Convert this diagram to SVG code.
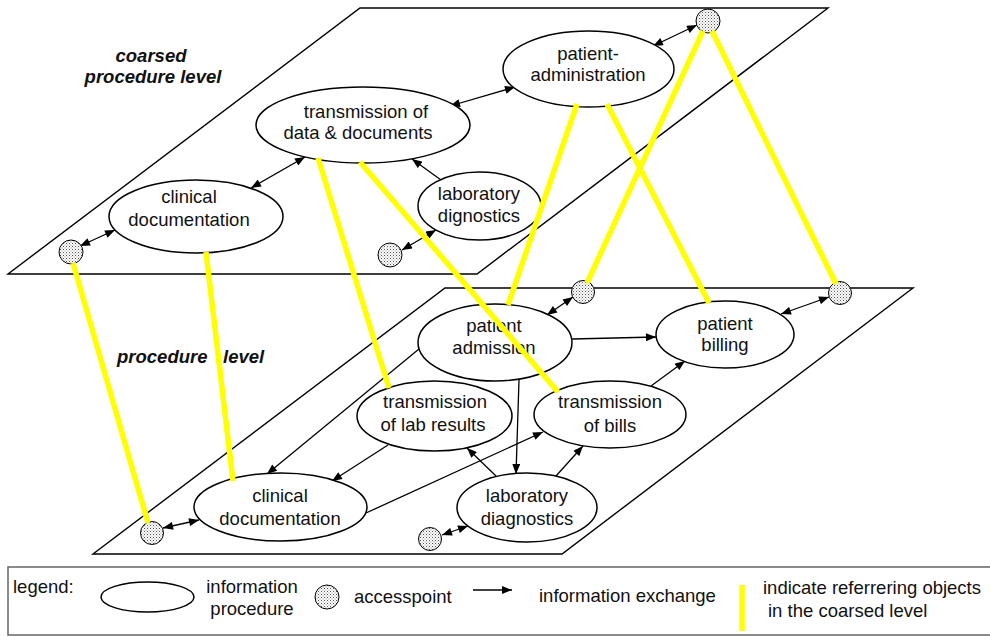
<svg xmlns="http://www.w3.org/2000/svg" width="990" height="637" viewBox="0 0 990 637">
<defs>
<pattern id="dots" width="3" height="3" patternUnits="userSpaceOnUse">
<rect width="3" height="3" fill="#ffffff"/>
<rect x="0" y="0" width="1" height="1" fill="#555"/>
<rect x="1.5" y="1.5" width="1" height="1" fill="#888"/>
</pattern>
<marker id="ah" viewBox="0 0 10 8" refX="10" refY="4" markerWidth="11" markerHeight="8" markerUnits="userSpaceOnUse" orient="auto-start-reverse">
<path d="M0,0 L10,4 L0,8 Z" fill="#000"/>
</marker>
<style>
.plane{fill:#fff;stroke:#000;stroke-width:1.4}
.proc{fill:#fff;stroke:#000;stroke-width:1.5}
.ap{fill:url(#dots);stroke:#000;stroke-width:1}
.t{font-family:"Liberation Sans",Arial,sans-serif;font-size:18.5px;fill:#111;text-anchor:middle}
.lv{font-family:"Liberation Sans",Arial,sans-serif;font-size:18.5px;font-weight:bold;font-style:italic;fill:#111}
.lg{font-family:"Liberation Sans",Arial,sans-serif;font-size:18.5px;fill:#111}
.c{stroke:#000;stroke-width:1.3;fill:none}
.bi{marker-start:url(#ah);marker-end:url(#ah)}
.un{marker-end:url(#ah)}
.y{stroke:#ffff00;stroke-width:5.5;fill:none}
</style>
</defs>

<g id="planes">
<polygon id="plane-coarsed" class="plane" points="360,8 828,8 477,274 8,274"/>
<polygon id="plane-procedure" class="plane" points="445,288 913,288 562,554 93,554"/>
</g>

<g id="level-labels">
<text class="lv" x="151" y="62" text-anchor="middle">coarsed</text>
<text class="lv" x="153" y="83" text-anchor="middle">procedure level</text>
<text class="lv" x="117" y="363">procedure<tspan x="223">level</tspan></text>
</g>

<g id="connectors">
<line class="c bi" x1="80" y1="246" x2="115" y2="230"/>
<line class="c bi" x1="251" y1="188" x2="305" y2="157"/>
<line class="c un" x1="441" y1="180" x2="412" y2="159"/>
<line class="c bi" x1="402" y1="250" x2="436" y2="230"/>
<line class="c bi" x1="450" y1="106" x2="515" y2="87"/>
<line class="c bi" x1="653" y1="46" x2="697" y2="25"/>
<line class="c bi" x1="547" y1="315" x2="573" y2="297"/>
<line class="c un" x1="572" y1="339" x2="656" y2="337"/>
<line class="c bi" x1="781" y1="314" x2="829" y2="297"/>
<line class="c un" x1="651" y1="386" x2="685" y2="361"/>
<line class="c un" x1="519" y1="380" x2="516" y2="474"/>
<line class="c un" x1="556" y1="476" x2="583" y2="446"/>
<line class="c un" x1="496" y1="476" x2="467" y2="448"/>
<line class="c un" x1="388" y1="445" x2="332" y2="481"/>
<line class="c un" x1="419" y1="349" x2="267" y2="474"/>
<line class="c un" x1="366" y1="513" x2="543" y2="432"/>
<line class="c bi" x1="163" y1="528" x2="199" y2="520"/>
<line class="c bi" x1="442" y1="535" x2="468" y2="526"/>
</g>

<g id="n-transmission-data">
<ellipse class="proc" cx="363" cy="125" rx="107" ry="38"/>
<text class="t" x="366" y="118">transmission of</text>
<text class="t" x="358" y="139">data &amp; documents</text>
</g>
<g id="n-clinical-upper">
<ellipse class="proc" cx="196" cy="216.5" rx="87" ry="36.5"/>
<text class="t" x="189" y="203">clinical</text>
<text class="t" x="189" y="226">documentation</text>
</g>
<g id="n-lab-upper">
<ellipse class="proc" cx="479.5" cy="206" rx="61.5" ry="34"/>
<text class="t" x="479" y="200">laboratory</text>
<text class="t" x="479" y="222">dignostics</text>
</g>
<g id="n-patient-administration">
<ellipse class="proc" cx="588.5" cy="69" rx="85.5" ry="38"/>
<text class="t" x="588" y="60">patient-</text>
<text class="t" x="588" y="81">administration</text>
</g>
<g id="n-patient-admission">
<ellipse class="proc" cx="495" cy="342.5" rx="77" ry="38.5"/>
<text class="t" x="494" y="332">patient</text>
<text class="t" x="494" y="354">admission</text>
</g>
<g id="n-patient-billing">
<ellipse class="proc" cx="725" cy="334.5" rx="69" ry="33.5"/>
<text class="t" x="725" y="330">patient</text>
<text class="t" x="725" y="351">billing</text>
</g>
<g id="n-transmission-lab">
<ellipse class="proc" cx="434.5" cy="416" rx="77.5" ry="35"/>
<text class="t" x="435" y="408">transmission</text>
<text class="t" x="433" y="431">of lab results</text>
</g>
<g id="n-transmission-bills">
<ellipse class="proc" cx="610" cy="414.5" rx="76" ry="33.5"/>
<text class="t" x="610" y="408">transmission</text>
<text class="t" x="610" y="432">of bills</text>
</g>
<g id="n-clinical-lower">
<ellipse class="proc" cx="280.5" cy="507" rx="86.5" ry="34"/>
<text class="t" x="280" y="502">clinical</text>
<text class="t" x="280" y="525">documentation</text>
</g>
<g id="n-lab-lower">
<ellipse class="proc" cx="527" cy="507.5" rx="70" ry="34.5"/>
<text class="t" x="527" y="502">laboratory</text>
<text class="t" x="527" y="525">diagnostics</text>
</g>

<g id="accesspoints">
<circle id="ap-upper-left" class="ap" cx="71" cy="252" r="12"/>
<circle id="ap-upper-lab" class="ap" cx="390" cy="255" r="12"/>
<circle id="ap-upper-top" class="ap" cx="708" cy="21" r="12"/>
<circle id="ap-lower-mid" class="ap" cx="583" cy="292" r="11.5"/>
<circle id="ap-lower-right" class="ap" cx="840" cy="293" r="11.5"/>
<circle id="ap-lower-left" class="ap" cx="152" cy="533" r="11.5"/>
<circle id="ap-lower-lab" class="ap" cx="430" cy="539" r="11.5"/>
</g>

<g id="references">
<line class="y" x1="73" y1="263" x2="148" y2="523"/>
<line class="y" x1="206" y1="252" x2="233" y2="481"/>
<line class="y" x1="318" y1="158" x2="389" y2="388"/>
<line class="y" x1="360" y1="162" x2="558" y2="392"/>
<line class="y" x1="577" y1="104" x2="508" y2="305"/>
<line class="y" x1="607" y1="104" x2="709" y2="303"/>
<line class="y" x1="703" y1="31" x2="587" y2="283"/>
<line class="y" x1="712" y1="31" x2="836" y2="284"/>
</g>

<g id="legend">
<rect x="8" y="567" width="990" height="68" fill="none" stroke="#666" stroke-width="1.5"/>
<text class="lg" x="13" y="593">legend:</text>
<ellipse class="proc" cx="147.5" cy="597" rx="46.5" ry="15"/>
<text class="lg" x="252" y="593" text-anchor="middle">information</text>
<text class="lg" x="252" y="615" text-anchor="middle">procedure</text>
<circle class="ap" cx="327" cy="597" r="12"/>
<text class="lg" x="354" y="603">accesspoint</text>
<line class="c un" x1="473" y1="590" x2="512" y2="590"/>
<text class="lg" x="539" y="602">information exchange</text>
<line class="y" x1="742" y1="585" x2="742" y2="631"/>
<text class="lg" x="763" y="594">indicate referrering objects</text>
<text class="lg" x="768" y="617">in the coarsed level</text>
</g>
</svg>
